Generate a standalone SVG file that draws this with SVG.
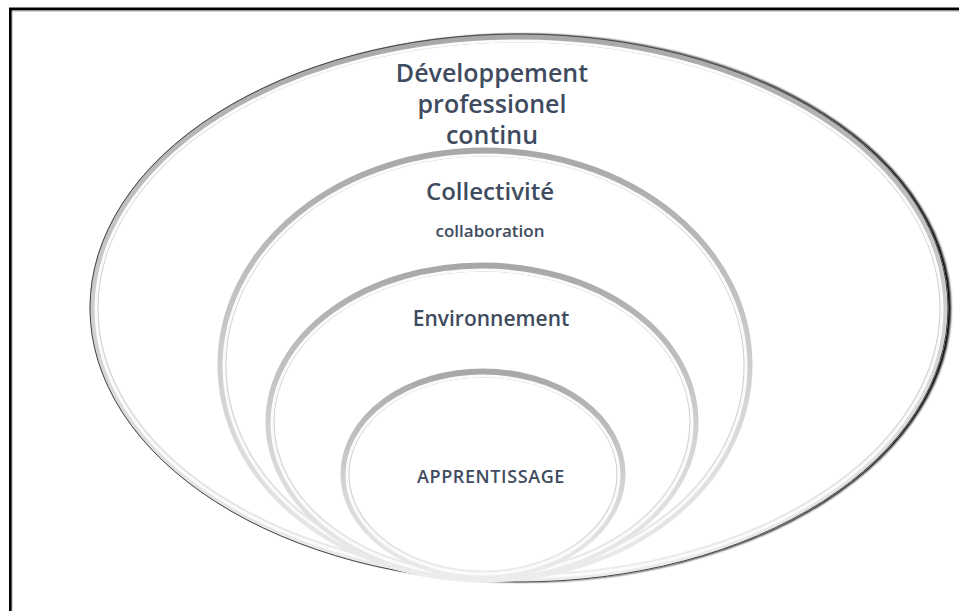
<svg xmlns="http://www.w3.org/2000/svg" width="959" height="611" viewBox="0 0 959 611">
<defs>
<style>
.t{font-family:"Open Sans","Noto Sans","Liberation Sans",sans-serif;font-weight:600;fill:#3f4b5e;text-anchor:middle}
.hi{fill:none;stroke:#fbfbfb;stroke-width:3}
.ring{fill:#fff;stroke:url(#g);stroke-width:9}
.edge{fill:none;stroke:#444;stroke-width:1}
</style>
<linearGradient id="g" x1="0" y1="0" x2="0" y2="1">
<stop offset="0" stop-color="#a8a8a8"/><stop offset="0.6" stop-color="#d6d6d6"/><stop offset="1" stop-color="#ececec"/>
</linearGradient>
<filter id="blur" x="-5%" y="-5%" width="110%" height="110%"><feGaussianBlur stdDeviation="1.2"/></filter>
</defs>
<rect x="0" y="0" width="959" height="611" fill="#fff"/>
<path d="M10.5 611 V9 H959" fill="none" stroke="#000" stroke-width="3"/>
<path d="M12 611 V11 H959" fill="none" stroke="#aaa" stroke-width="1"/>
<g id="outer">
<ellipse cx="523" cy="308" rx="425" ry="271" fill="none" stroke="#000" stroke-width="6" filter="url(#blur)"/>
<ellipse cx="519" cy="308" rx="425" ry="270" class="ring"/>
<ellipse cx="519" cy="308" rx="429" ry="274" class="edge"/>
<ellipse cx="519" cy="309" rx="423" ry="268" class="hi"/>
<text class="t" x="492" y="82" font-size="25">Développement</text>
<text class="t" x="492" y="113" font-size="25">professionel</text>
<text class="t" x="492" y="144" font-size="25">continu</text>
</g>
<g id="collectivite">
<ellipse cx="485" cy="365" rx="263" ry="213" class="ring"/>
<ellipse cx="485" cy="366" rx="261" ry="211" class="hi"/>
<text class="t" x="490" y="200" font-size="24">Collectivité</text>
<text class="t" x="490" y="237" font-size="17">collaboration</text>
</g>
<g id="environnement">
<ellipse cx="482" cy="422" rx="212" ry="155" class="ring"/>
<ellipse cx="482" cy="423" rx="210" ry="153" class="hi"/>
<text class="t" x="491" y="326" font-size="21">Environnement</text>
</g>
<g id="apprentissage">
<ellipse cx="483" cy="474" rx="138" ry="101" class="ring"/>
<ellipse cx="483" cy="475" rx="136" ry="99" class="hi"/>
<text class="t" x="491" y="483" font-size="18" letter-spacing="0.6">APPRENTISSAGE</text>
</g>
<g id="connectors"></g>
</svg>
